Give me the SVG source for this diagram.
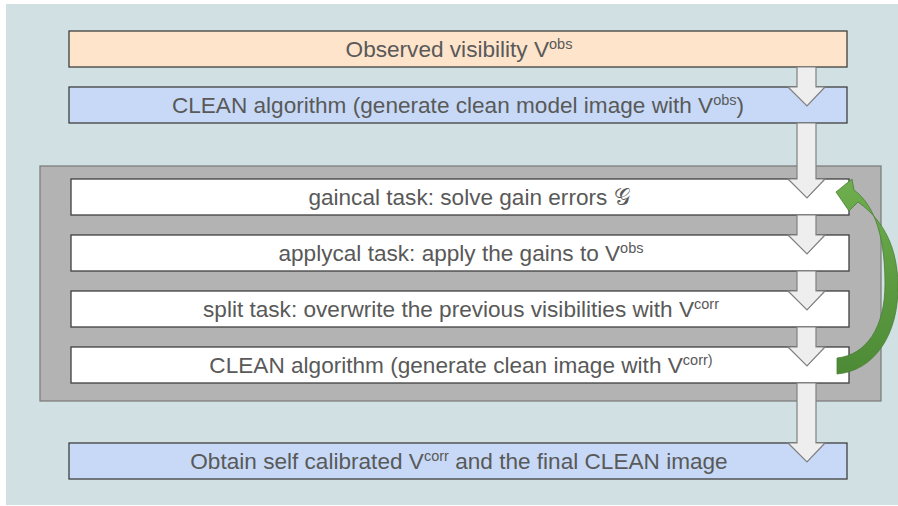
<svg xmlns="http://www.w3.org/2000/svg" width="898" height="506" viewBox="0 0 898 506">
<style>
.box{stroke:#3f3f3f;stroke-width:1.3}
.peach{fill:#fde4cb}
.blue{fill:#c7d9f6}
.white{fill:#ffffff}
.lbl{font-family:"Liberation Sans",Arial,sans-serif;font-size:22.6px;fill:#595959;text-anchor:middle}
.sup{font-size:14.5px}
.arrow{fill:#eeeeee;stroke:#808080;stroke-width:1.2}
</style>
<defs>
<linearGradient id="grn" x1="0" y1="0" x2="0" y2="1">
<stop offset="0" stop-color="#6fae4e"/>
<stop offset="1" stop-color="#4d8a36"/>
</linearGradient>
</defs>
<rect x="0" y="0" width="898" height="506" fill="#ffffff"/>
<rect x="6" y="4" width="892" height="501" fill="#d1e0e3"/>
<g id="loop-container">
<rect x="40" y="166" width="841" height="235" fill="#b3b3b3" stroke="#7f7f7f" stroke-width="1.3"/>
</g>
<g id="observed">
<rect class="box peach" x="69" y="31" width="778" height="36"/>
<text class="lbl" x="459" y="57">Observed visibility V<tspan class="sup" dy="-8">obs</tspan></text>
</g>
<g id="clean1">
<rect class="box blue" x="69" y="87" width="778" height="36"/>
<text class="lbl" x="458" y="113">CLEAN algorithm (generate clean model image with V<tspan class="sup" dy="-8">obs</tspan><tspan dy="8">)</tspan></text>
</g>
<g id="gaincal">
<rect class="box white" x="71" y="179" width="778" height="36"/>
<text class="lbl" x="469" y="205">gaincal task: solve gain errors <tspan font-family="'DejaVu Serif','Liberation Serif',serif">𝒢</tspan></text>
</g>
<g id="applycal">
<rect class="box white" x="71" y="235" width="778" height="36"/>
<text class="lbl" x="461" y="261">applycal task: apply the gains to V<tspan class="sup" dy="-8">obs</tspan></text>
</g>
<g id="split">
<rect class="box white" x="71" y="291" width="778" height="36"/>
<text class="lbl" x="461" y="317">split task: overwrite the previous visibilities with V<tspan class="sup" dy="-8">corr</tspan></text>
</g>
<g id="clean2">
<rect class="box white" x="71" y="347" width="778" height="36"/>
<text class="lbl" x="461" y="373">CLEAN algorithm (generate clean image with V<tspan class="sup" dy="-8">corr)</tspan></text>
</g>
<g id="final">
<rect class="box blue" x="69" y="443" width="778" height="36"/>
<text class="lbl" x="459" y="469">Obtain self calibrated V<tspan class="sup" dy="-8">corr</tspan><tspan dy="8"> and the final CLEAN image</tspan></text>
</g>
<g id="connectors">
<polygon class="arrow" points="797,67 816,67 816,87 825,87 807,106 788,87 797,87"/>
<polygon class="arrow" points="797,123 816,123 816,179 825,179 807,198 788,179 797,179"/>
<polygon class="arrow" points="797,215 816,215 816,235 825,235 807,254 788,235 797,235"/>
<polygon class="arrow" points="797,271 816,271 816,291 825,291 807,310 788,291 797,291"/>
<polygon class="arrow" points="797,327 816,327 816,347 825,347 807,366 788,347 797,347"/>
<polygon class="arrow" points="797,383 816,383 816,443 825,443 807,462 788,443 797,443"/>
<path d="M837,374 C874,371 899,335 898,284 C897,250 886,222 858,202 L849,211 L836,192 L852,179 L854,190 C876,206 885,240 885,284 C885,328 866,355 837,358 Z" fill="url(#grn)" stroke="#4a7f35" stroke-width="0.8"/>
</g>
</svg>
